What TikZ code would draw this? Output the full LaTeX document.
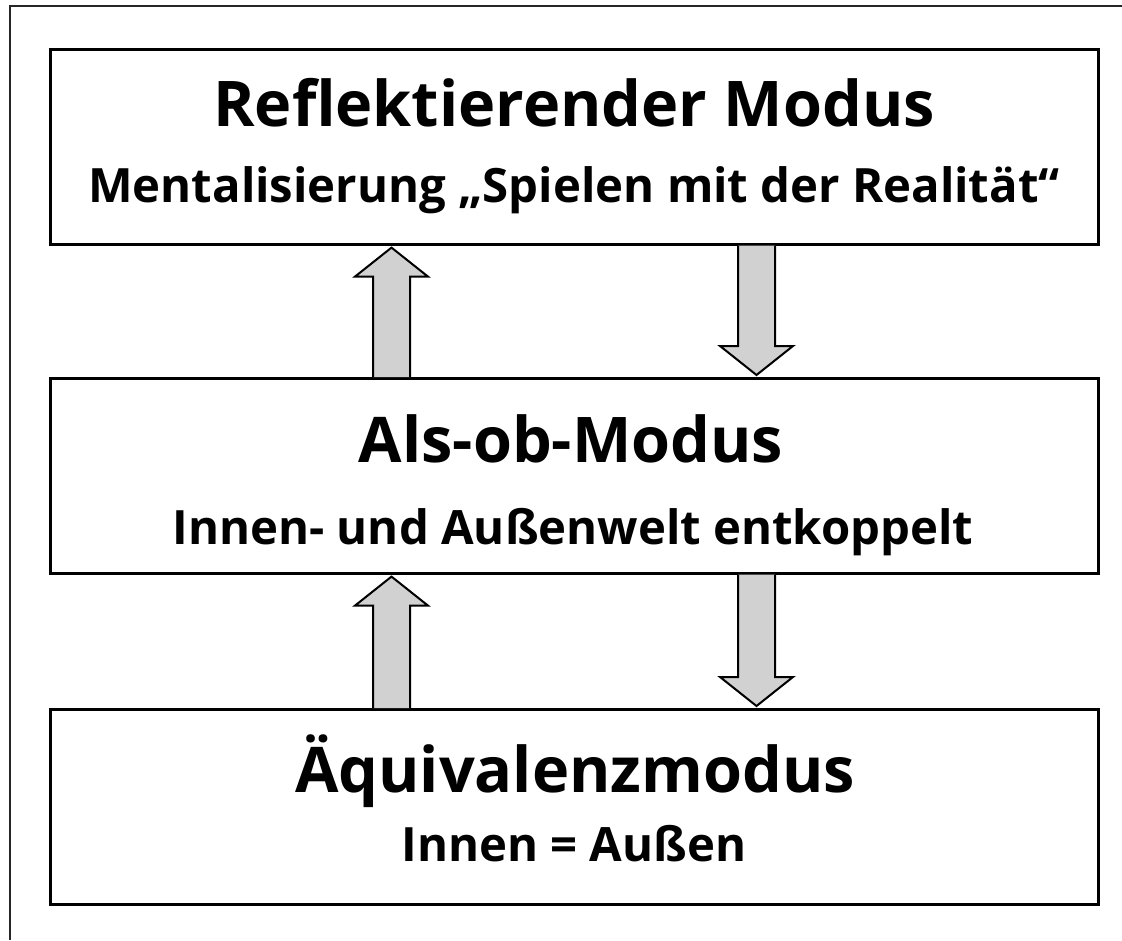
\documentclass[tikz,border=0pt]{standalone}
\usepackage{fontspec}
\setmainfont{Open Sans}
\usetikzlibrary{calc}
\begin{document}
\begin{tikzpicture}[x=1pt,y=-1pt,
  frameline/.style={draw=black!85,line width=1.5pt},
  modebox/.style={draw=black,line width=2.6pt,minimum width=1048pt,minimum height=195pt,anchor=north west,inner sep=0pt},
  titletext/.style={anchor=base,inner sep=0pt,font=\fontsize{63}{64}\selectfont\bfseries},
  subtext/.style={anchor=base,inner sep=0pt,font=\fontsize{47.3}{48}\selectfont\bfseries},
  fatarrow/.style={draw=black,line width=2pt,fill=black!18,line join=miter}]
\useasboundingbox (0,0) rectangle (1122,940);
\draw[frameline] (10,940) -- (10,6) -- (1122,6);
\node[modebox] (refl) at (49,48) {};
\node[modebox] (alsob) at (49,377) {};
\node[modebox] (aequi) at (49,708) {};
\node[titletext] (t1) at (574,126) {Reflektierender Modus};
\node[subtext] (s1) at (574,202) {Mentalisierung „Spielen mit der Realität“};
\node[titletext] (t2) at (571,462) {Als-ob-Modus};
\node[subtext] (s2) at (573,544) {Innen- und Außenwelt entkoppelt};
\node[titletext] (t3) at (575,792) {Äquivalenzmodus};
\node[subtext] (s3) at (574,861) {Innen = Außen};
% up arrows (centre x 391.5), down arrows (centre x 756.5)
\foreach \lo/\hi [count=\i] in {alsob/refl, aequi/alsob}{
  \path (\lo.north west) ++(342.5,0) coordinate (ub\i);
  \path (\hi.south west) ++(342.5,0) coordinate (ut\i);
  \draw[fatarrow] ($(ub\i)+(-18.5,0)$) -- ($(ut\i)+(-18.5,31)$) -- ($(ut\i)+(-36.5,31)$)
     -- ($(ut\i)+(0,2)$) -- ($(ut\i)+(36.5,31)$) -- ($(ut\i)+(18.5,31)$)
     -- ($(ub\i)+(18.5,0)$);
  \path (\hi.south west) ++(707.5,0) coordinate (db\i);
  \path (\lo.north west) ++(707.5,0) coordinate (dt\i);
  \draw[fatarrow] ($(db\i)+(-18.5,0)$) -- ($(dt\i)+(-18.5,-31)$) -- ($(dt\i)+(-36.5,-31)$)
     -- ($(dt\i)+(0,-2)$) -- ($(dt\i)+(36.5,-31)$) -- ($(dt\i)+(18.5,-31)$)
     -- ($(db\i)+(18.5,0)$);
}
\end{tikzpicture}
\end{document}
